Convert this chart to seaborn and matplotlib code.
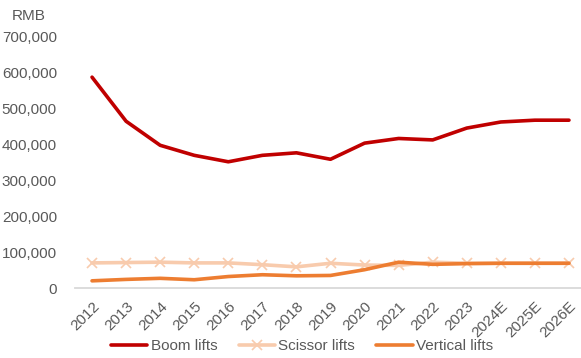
import matplotlib
matplotlib.use("Agg")
import matplotlib.pyplot as plt
from matplotlib.lines import Line2D
from matplotlib.ticker import FuncFormatter
import seaborn as sns
import pandas as pd

years = ["2012", "2013", "2014", "2015", "2016", "2017", "2018", "2019",
         "2020", "2021", "2022", "2023", "2024E", "2025E", "2026E"]
boom_lifts = [588000, 465000, 398000, 370000, 352000, 370000, 377000, 359000,
              404000, 417000, 413000, 446000, 463000, 468000, 468000]
scissor_lifts = [70000, 71000, 72000, 70000, 70000, 65000, 59000, 69000,
                 64000, 63000, 72000, 69000, 69000, 69000, 69000]
vertical_lifts = [20000, 24000, 27000, 23000, 32000, 37000, 34000, 35000,
                  51000, 72000, 66000, 68000, 69000, 69000, 69000]

series_names = ["Boom lifts", "Scissor lifts", "Vertical lifts"]
colors = {"Boom lifts": "#C00000", "Scissor lifts": "#F8CBAD", "Vertical lifts": "#ED7D31"}
markers = {"Boom lifts": None, "Scissor lifts": "x", "Vertical lifts": None}
layers = {"Boom lifts": 3, "Scissor lifts": 2, "Vertical lifts": 4}

df = pd.DataFrame({
    "year": years * 3,
    "idx": list(range(len(years))) * 3,
    "value": boom_lifts + scissor_lifts + vertical_lifts,
    "series": [s for s in series_names for _ in years],
})

sns.set_style("white")
plt.rcParams["font.family"] = ["Liberation Sans", "DejaVu Sans"]

fig = plt.figure(figsize=(5.81, 3.58), dpi=100)
W, H = 581, 358
left, right, top, bottom = 75, 586, 37, 288
ax = fig.add_axes([left / W, (H - bottom) / H, (right - left) / W, (bottom - top) / H])

for name in series_names:
    sub = df[df["series"] == name]
    sns.lineplot(data=sub, x="idx", y="value", ax=ax, color=colors[name],
                 linewidth=2.6, marker=markers[name], markersize=7,
                 markeredgewidth=1.2, markeredgecolor=colors[name],
                 legend=False, zorder=layers[name])

ax.set_xlim(-0.5, len(years) - 0.5)
ax.set_ylim(0, 700000)
ax.set_yticks(range(0, 700001, 100000))
ax.yaxis.set_major_formatter(FuncFormatter(lambda v, p: f"{int(v):,}"))
ax.set_xticks(range(len(years)))
ax.set_xticklabels(years, rotation=45, ha="right", rotation_mode="anchor")
ax.set_xlabel("")
ax.set_ylabel("")

for s in ["top", "right", "left"]:
    ax.spines[s].set_visible(False)
ax.spines["bottom"].set_color("#D9D9D9")
ax.spines["bottom"].set_linewidth(1.3)
ax.tick_params(axis="both", length=0, colors="#595959", labelsize=11)
ax.tick_params(axis="y", pad=13)
ax.tick_params(axis="x", pad=8)
ax.grid(False)

fig.text(12 / W, 1 - 16 / H, "RMB", color="#595959", fontsize=11, va="center", ha="left")

handles = [
    Line2D([], [], color=colors["Boom lifts"], linewidth=2.6),
    Line2D([], [], color=colors["Scissor lifts"], linewidth=2.6, marker="x",
           markersize=7, markeredgewidth=1.2),
    Line2D([], [], color=colors["Vertical lifts"], linewidth=2.6),
]
fig.legend(handles, series_names, loc="center", bbox_to_anchor=(302 / W, 1 - 346 / H),
           ncol=3, frameon=False, fontsize=11, labelcolor="#595959",
           handlelength=2.4, handletextpad=0.2, columnspacing=1.4)

fig.savefig("out.png", dpi=100)
